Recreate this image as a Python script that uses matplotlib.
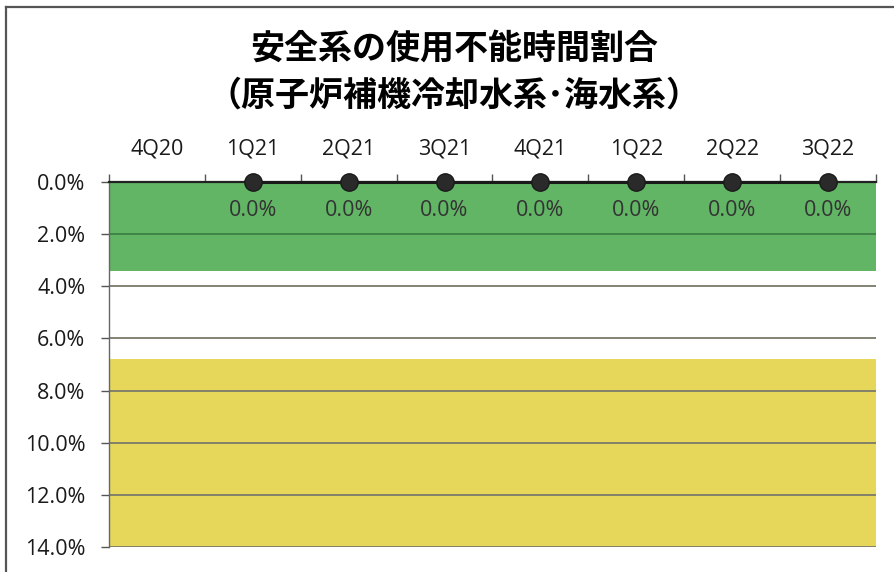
import numpy as np
import matplotlib
matplotlib.use("Agg")
import matplotlib.pyplot as plt

plt.rcParams['font.family'] = ['Open Sans', 'DejaVu Sans']

categories = ["4Q20", "1Q21", "2Q21", "3Q21", "4Q21", "1Q22", "2Q22", "3Q22"]
values = [np.nan, 0.0, 0.0, 0.0, 0.0, 0.0, 0.0, 0.0]
green_band = [0.0, 3.4]
yellow_band = [6.8, 14.0]
yticks = [0, 2, 4, 6, 8, 10, 12, 14]
title_lines = ["安全系の使用不能時間割合", "（原子炉補機冷却水系･海水系）"]

fig = plt.figure(figsize=(8.94, 5.72), dpi=100)
fig.patch.set_facecolor("white")

# outer frame (left and top edges)
fig.add_artist(plt.Line2D([6/894, 6/894], [0, 1-7/572], transform=fig.transFigure,
                          color="#555555", lw=1.6))
fig.add_artist(plt.Line2D([6/894, 1], [1-7/572, 1-7/572], transform=fig.transFigure,
                          color="#555555", lw=1.6))

ax = fig.add_axes([109/894, 1-547/572, (876-109)/894, (547-182)/572])
x = np.arange(len(categories))
ax.set_xlim(-0.5, len(categories) - 0.5)
ax.set_ylim(14, 0)

ax.axhspan(green_band[0], green_band[1], color="#62B565", zorder=0, lw=0)
ax.axhspan(yellow_band[0], yellow_band[1], color="#E6D65A", zorder=0, lw=0)

# gridlines
for yv in yticks[1:]:
    col = "#3E7F45" if green_band[0] < yv < green_band[1] else "#7A7A6A"
    ax.axhline(yv, color=col, lw=1.3, zorder=1)

ax.plot(x, values, color="#1a1a1a", lw=2.2, marker="o", markersize=12.5,
        markerfacecolor="#2a2a2a", markeredgecolor="#1a1a1a", zorder=3,
        clip_on=False)
for xi, v in zip(x, values):
    if not np.isnan(v):
        ax.annotate(f"{v:.1f}%", (xi, v), xytext=(0, -20.5), textcoords="offset points",
                    ha="center", va="center", fontsize=15.5, color="#333333")

ax.xaxis.set_ticks_position("top")
ax.set_xticks(x)
ax.set_xticklabels(categories, fontsize=15.5, color="#1a1a1a")
ax.tick_params(axis="x", which="major", length=0, pad=16)
ax.set_xticks(np.arange(-0.5, len(categories) - 0.4, 1), minor=True)
ax.tick_params(axis="x", which="minor", length=6, width=1, color="#555555", direction="out")

ax.set_yticks(yticks)
ax.set_yticklabels([f"{t:.1f}%" for t in yticks], fontsize=15.5, color="#1a1a1a")
ax.tick_params(axis="y", length=6, width=1, color="#555555", pad=11)

for s in ["right", "bottom"]:
    ax.spines[s].set_visible(False)
ax.spines["top"].set_color("#222222")
ax.spines["top"].set_linewidth(1.6)
ax.spines["left"].set_color("#666666")
ax.spines["left"].set_linewidth(1.0)
ax.set_facecolor("white")

fig.text(454/894, 1-48/572, title_lines[0], ha="center", va="center", fontsize=24.5,
         fontweight="bold", family=["Noto Sans CJK JP", "DejaVu Sans"])
fig.text(454/894, 1-95/572, title_lines[1], ha="center", va="center", fontsize=24.5,
         fontweight="bold", family=["Noto Sans CJK JP", "DejaVu Sans"])

fig.savefig("out.png", dpi=100, facecolor="white")
